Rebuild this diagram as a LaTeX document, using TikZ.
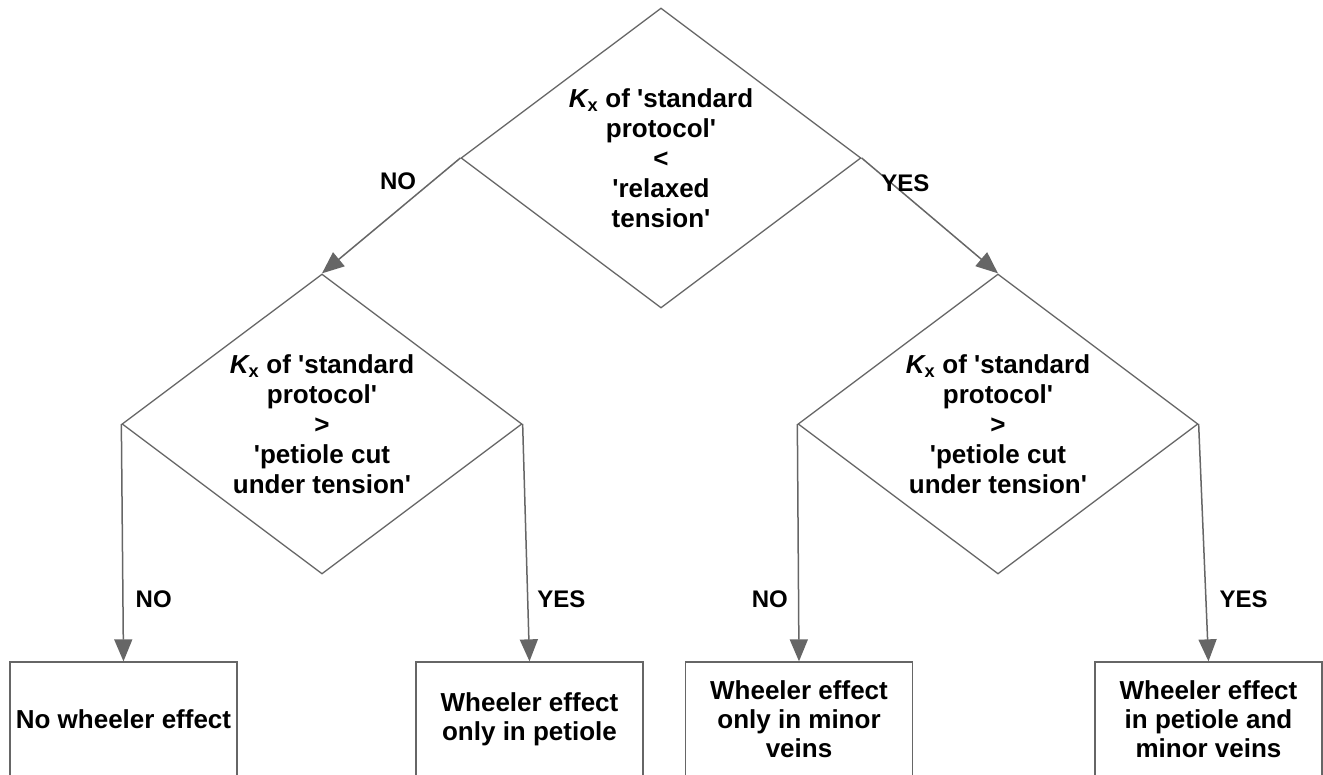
\documentclass[tikz,border=0pt]{standalone}
\usepackage{fontspec}
\setmainfont{Liberation Sans}
\usepackage{tikz}
\definecolor{flowgray}{RGB}{102,102,102}
\usetikzlibrary{
    shapes.geometric,
    arrows.meta,
    positioning
}
\newcommand{\kx}{{\itshape K}\textsubscript{x}}
\newcommand{\sq}{\textquotesingle}

\begin{document}
\begin{tikzpicture}[
    node distance=266pt,
    decision/.style={diamond, aspect=1.333, draw=flowgray, line width=1.3pt, minimum width=400pt, minimum height=300pt, inner sep=0pt, align=center, font=\fontsize{26}{30}\selectfont\bfseries},
    block/.style={rectangle, draw=flowgray, line width=1.3pt, minimum width=227pt, minimum height=114pt, align=center, font=\fontsize{26}{29}\selectfont\bfseries},
    arrow/.style={-{Triangle[length=22pt, width=18pt]}, line width=1.5pt, flowgray},
    lbl/.style={font=\fontsize{24}{28}\selectfont\bfseries, text=black, inner sep=2pt}
]
    \useasboundingbox (-661pt,158pt) rectangle (662pt,-616pt);

    \node[decision] (main) {\kx{} of \sq standard\\protocol\sq\\<\\\sq relaxed\\tension\sq};
    \node[decision] (cutl) [below of=main, xshift=-339pt] {\kx{} of \sq standard\\protocol\sq\\>\\\sq petiole cut\\under tension\sq};
    \node[decision] (cutr) [below of=main, xshift=337pt] {\kx{} of \sq standard\\protocol\sq\\>\\\sq petiole cut\\under tension\sq};
    \node[block] (none) [below of=cutl, xshift=-198.5pt, yshift=-29pt] {No wheeler effect};
    \node[block] (petiole) [below of=cutl, xshift=207.5pt, yshift=-29pt] {Wheeler effect\\only in petiole};
    \node[block] (minor) [below of=cutr, xshift=-199pt, yshift=-29pt] {Wheeler effect\\only in minor\\veins};
    \node[block] (both) [below of=cutr, xshift=210.5pt, yshift=-29pt] {Wheeler effect\\in petiole and\\minor veins};

    \draw[arrow] (main.west) -- node[lbl, pos=0.3, above left] {NO} (cutl.north);
    \draw[arrow] (main.east) -- node[lbl, pos=0.32, above] {YES} (cutr.north);
    \draw[arrow] (cutl.west) -- node[lbl, pos=0.74, right=10pt] {NO} (none.north);
    \draw[arrow] (cutl.east) -- node[lbl, pos=0.74, right=7pt] {YES} (petiole.north);
    \draw[arrow] (cutr.west) -- node[lbl, pos=0.74, left=8pt] {NO} (minor.north);
    \draw[arrow] (cutr.east) -- node[lbl, pos=0.74, right=11pt] {YES} (both.north);
\end{tikzpicture}
\end{document}
